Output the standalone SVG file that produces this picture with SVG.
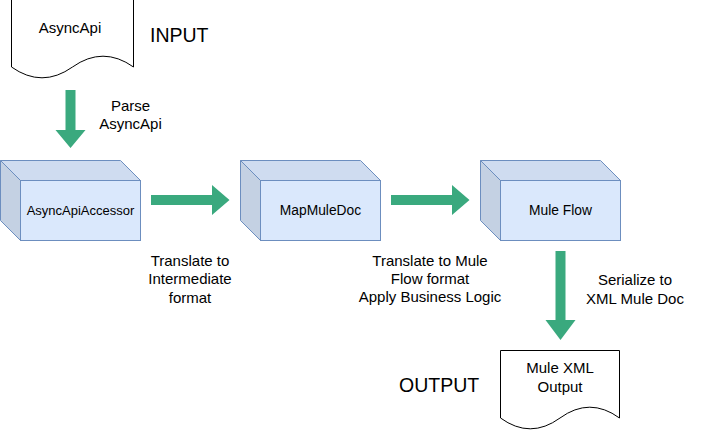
<svg xmlns="http://www.w3.org/2000/svg" width="711" height="431" viewBox="0 0 711 431">
<style>
  .t{font-family:"Liberation Sans",Arial,Helvetica,sans-serif;fill:#000;text-anchor:middle}
  .lbl{font-size:15px}
  .box{font-size:13.8px}
  .big{font-size:19.5px;text-anchor:start}
  .front{fill:#dae8fc;stroke:#6c8ebf;stroke-width:1}
  .top{fill:#cfdcf0;stroke:#6c8ebf;stroke-width:1}
  .side{fill:#c4d1e3;stroke:#6c8ebf;stroke-width:1}
  .doc{fill:#fff;stroke:#000;stroke-width:1}
  .arrow{fill:#3aa97e;stroke:none}
</style>
<rect width="711" height="431" fill="#fff"/>

<g id="input-doc">
  <path class="doc" d="M11.5,-1 H133.5 V67 Q103,45.4 72.5,67 Q42,88.6 11.5,67 Z"/>
  <text class="t lbl" x="70" y="33">AsyncApi</text>
</g>
<g id="input-label">
  <text class="t big" x="150" y="42">INPUT</text>
</g>

<g id="accessor">
  <path class="top" d="M0.5,160.5 H120.5 L140.5,180.5 H20.5 Z"/>
  <path class="side" d="M0.5,160.5 L20.5,180.5 V240.5 L0.5,220.5 Z"/>
  <rect class="front" x="20.5" y="180.5" width="120" height="60"/>
  <text class="t box" x="80.5" y="215" style="font-size:13px">AsyncApiAccessor</text>
</g>

<g id="mapmuledoc">
  <path class="top" d="M240.5,160.5 H360.5 L380.5,180.5 H260.5 Z"/>
  <path class="side" d="M240.5,160.5 L260.5,180.5 V240.5 L240.5,220.5 Z"/>
  <rect class="front" x="260.5" y="180.5" width="120" height="60"/>
  <text class="t box" x="320.5" y="215">MapMuleDoc</text>
</g>

<g id="muleflow">
  <path class="top" d="M480.5,160.5 H600.5 L620.5,180.5 H500.5 Z"/>
  <path class="side" d="M480.5,160.5 L500.5,180.5 V240.5 L480.5,220.5 Z"/>
  <rect class="front" x="500.5" y="180.5" width="120" height="60"/>
  <text class="t box" x="560.5" y="215">Mule Flow</text>
</g>

<g id="output-doc">
  <path class="doc" d="M500.5,350.5 H619.5 V418 Q589.75,396.4 560,418 Q530.25,439.6 500.5,418 Z"/>
  <text class="t lbl" x="560" y="373">Mule XML</text>
  <text class="t lbl" x="560" y="391.5">Output</text>
</g>
<g id="output-label">
  <text class="t big" x="399" y="392">OUTPUT</text>
</g>

<g id="connectors">
  <path class="arrow" d="M65.5,90 H75.5 V130 H85.5 L70.5,148 L55.5,130 H65.5 Z"/>
  <path class="arrow" d="M151,195 H212 V185 L229.5,200 L212,215 V205 H151 Z"/>
  <path class="arrow" d="M391,195 H452 V185 L469.5,200 L452,215 V205 H391 Z"/>
  <path class="arrow" d="M555.5,251 H565.5 V320 H575.5 L560.5,340 L545.5,320 H555.5 Z"/>
</g>

<g id="edge-labels">
  <text class="t lbl" x="130.5" y="111">Parse</text>
  <text class="t lbl" x="130.5" y="129">AsyncApi</text>
  <text class="t lbl" x="190" y="266">Translate to</text>
  <text class="t lbl" x="190" y="284">Intermediate</text>
  <text class="t lbl" x="190" y="302.5">format</text>
  <text class="t lbl" x="430" y="265.5">Translate to Mule</text>
  <text class="t lbl" x="430" y="283.5">Flow format</text>
  <text class="t lbl" x="430" y="301.5">Apply Business Logic</text>
  <text class="t lbl" x="635" y="285">Serialize to</text>
  <text class="t lbl" x="635" y="304">XML Mule Doc</text>
</g>
</svg>
